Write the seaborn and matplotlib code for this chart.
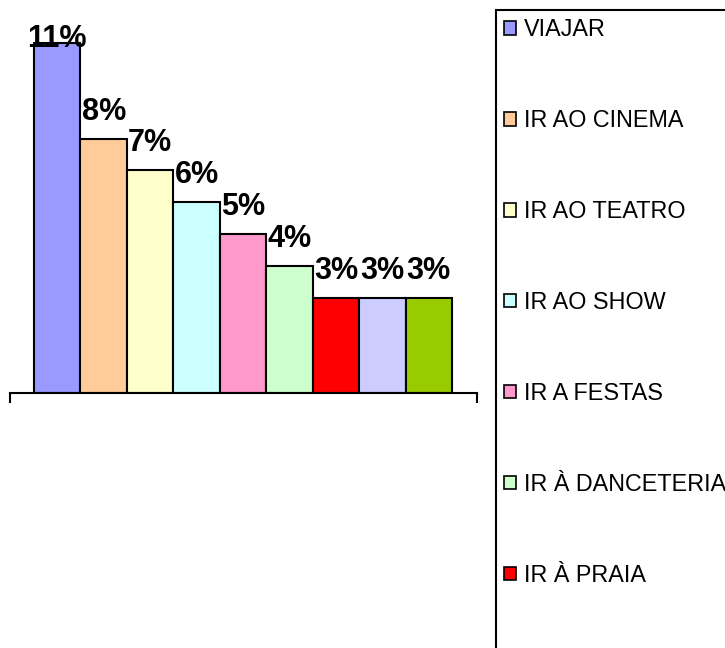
import matplotlib
matplotlib.use("Agg")
import matplotlib.pyplot as plt
from matplotlib.patches import Patch
import seaborn as sns

categorias = ["VIAJAR", "IR AO CINEMA", "IR AO TEATRO", "IR AO SHOW", "IR A FESTAS",
              "IR À DANCETERIA", "IR À PRAIA", "IR AO SHOPPING", "OUTROS"]
valores = [11, 8, 7, 6, 5, 4, 3, 3, 3]
rotulos = ["11%", "8%", "7%", "6%", "5%", "4%", "3%", "3%", "3%"]
cores = ["#9999FF", "#FFCC99", "#FFFFCC", "#CCFFFF", "#FF99CC",
         "#CCFFCC", "#FF0000", "#CCCCFF", "#99CC00"]

sns.set_style("white")
plt.rcParams["font.family"] = ["Liberation Sans", "DejaVu Sans"]
plt.rcParams["text.color"] = "black"

W, H = 725, 648
fig = plt.figure(figsize=(W / 100, H / 100), dpi=100)

# eixo: linha base em y=393, barras de x=34 a 452
unit = (452 - 34) / 9
ax_left, ax_right = 10, 477
base_y, px_per = 393, 31.8
ymax = 12
ax = fig.add_axes([ax_left / W, (H - base_y) / H,
                   (ax_right - ax_left) / W, ymax * px_per / H])

sns.barplot(x=categorias, y=valores, hue=categorias, palette=cores, width=1,
            saturation=1, edgecolor="black", linewidth=1.5, legend=False, ax=ax)

xmin = -0.5 - (34 - ax_left) / unit
xmax = 8.5 + (ax_right - 452) / unit
ax.set_xlim(xmin, xmax)
ax.set_ylim(0, ymax)

# rótulos acima das barras; o maior fica preso no topo da área do gráfico
topo = (base_y - 47) / px_per
for i, (v, r) in enumerate(zip(valores, rotulos)):
    ax.text(i, min(v + 19 / px_per, topo), r, ha="center", va="baseline",
            fontsize=22, fontweight="bold", color="black")

for s in ["top", "right", "left"]:
    ax.spines[s].set_visible(False)
ax.spines["bottom"].set_color("black")
ax.spines["bottom"].set_linewidth(1.5)
ax.set_yticks([])
ax.set_xticks([xmin, xmax])
ax.set_xticklabels(["", ""])
ax.tick_params(axis="x", direction="out", length=7.5, width=1.5, color="black", bottom=True)
ax.set_xlabel("")
ax.set_ylabel("")

handles = [Patch(facecolor=c, edgecolor="black", linewidth=1.2, label=cat)
           for cat, c in zip(categorias, cores)]
leg = fig.legend(handles=handles, loc="upper left",
                 bbox_to_anchor=(496 / W, 1 - 10 / H), borderaxespad=0,
                 fontsize=16.8, frameon=True, fancybox=False, shadow=False,
                 handlelength=0.5, handleheight=0.5, handletextpad=0.33,
                 labelspacing=2.91, borderpad=0.36, labelcolor="black")
leg.get_frame().set_edgecolor("black")
leg.get_frame().set_linewidth(1.5)
leg.get_frame().set_facecolor("white")
leg.get_frame().set_alpha(1)

fig.savefig("out.png", dpi=100)
